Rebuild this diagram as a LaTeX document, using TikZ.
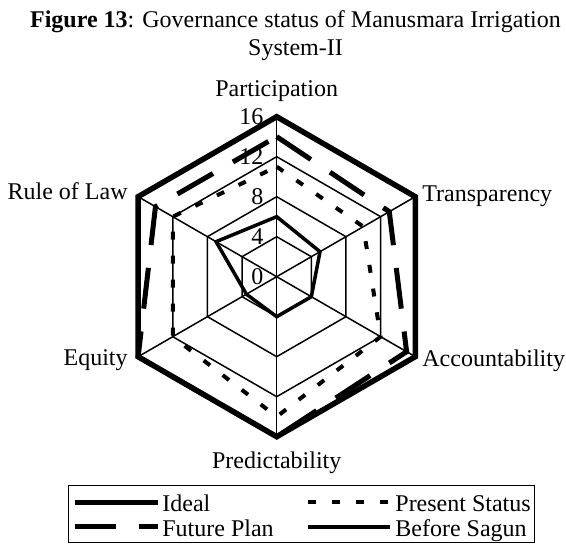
\documentclass[tikz,border=0pt]{standalone}
\usepackage{fontspec}
\setmainfont{Liberation Serif}
\tikzset{
  gridline/.style={line width=0.75pt},
  ideal/.style={line width=2.75pt},
  future/.style={line width=2.5pt,dash pattern=on 20.5pt off 11.5pt},
  present/.style={line width=2pt,dash pattern=on 4pt off 8pt},
  before/.style={line width=1.75pt}
}
\begin{document}
\begin{tikzpicture}[x=0.5pt,y=0.5pt,inner sep=0pt,font=\fontsize{12}{14.5}\selectfont]
    \useasboundingbox (0,0) rectangle (566,544);

    \node[anchor=base] (title) at (295.5,516) {\textbf{Figure 13}: Governance status of Manusmara Irrigation};
    \node[anchor=base] (subtitle) at (295.5,488) {System-II};

    \begin{scope}[shift={(276.7,267.3)}]
    \coordinate (o) at (0,0);
    \foreach \a/\n in {90/pa,30/tr,-30/ac,-90/pr,210/eq,150/rl}
    \draw[gridline] (o) -- (\a:160) coordinate (\n);
    \foreach \r in {40,80,120,160}
    \draw[gridline] (90:\r) -- (30:\r) -- (-30:\r) -- (-90:\r) -- (210:\r) -- (150:\r) -- cycle;

    \draw[ideal]   (90:160) -- (30:160) -- (-30:160) -- (-90:160) -- (210:160) -- (150:160) -- cycle;
    \draw[future]  (90:140) -- (30:130) -- (-30:150) -- (-90:160) -- (210:160) -- (150:140) -- cycle;
    \draw[present] (90:110) -- (30:100) -- (-30:120) -- (-90:140) -- (210:120) -- (150:120) -- cycle;
    \draw[before]  (90:60)  -- (30:50)  -- (-30:40)  -- (-90:40)  -- (210:35)  -- (150:70)  -- cycle;

    \foreach \v in {0,4,8,12,16}
    \node[anchor=east] (tick\v) at (-13,\v*10) {\v};
    \end{scope}

    \node[anchor=base] (lpa) at (276.7,447.3) {Participation};
    \node[anchor=base west] (ltr) at (422,342.3) {Transparency};
    \node[anchor=base west] (lac) at (422,177.3) {Accountability};
    \node[anchor=base] (lpr) at (276.7,75.5) {Predictability};
    \node[anchor=base east] (leq) at (128,178) {Equity};
    \node[anchor=base east] (lrl) at (128,344) {Rule of Law};

    \draw[line width=0.5pt] (68.3,1) rectangle (534.3,58.3);
    \draw[ideal] (75,41.7) -- (158,41.7);
    \draw[future] (75,17) -- (158,17);
    \draw[present] (308,41.7) -- (388,41.7);
    \draw[before] (308,17) -- (390,17);
    \node[anchor=base west] (kideal) at (162,32.3) {Ideal};
    \node[anchor=base west] (kfuture) at (162,7.3) {Future Plan};
    \node[anchor=base west] (kpresent) at (395,32.3) {Present Status};
    \node[anchor=base west] (kbefore) at (395,7.3) {Before Sagun};
\end{tikzpicture}
\end{document}
